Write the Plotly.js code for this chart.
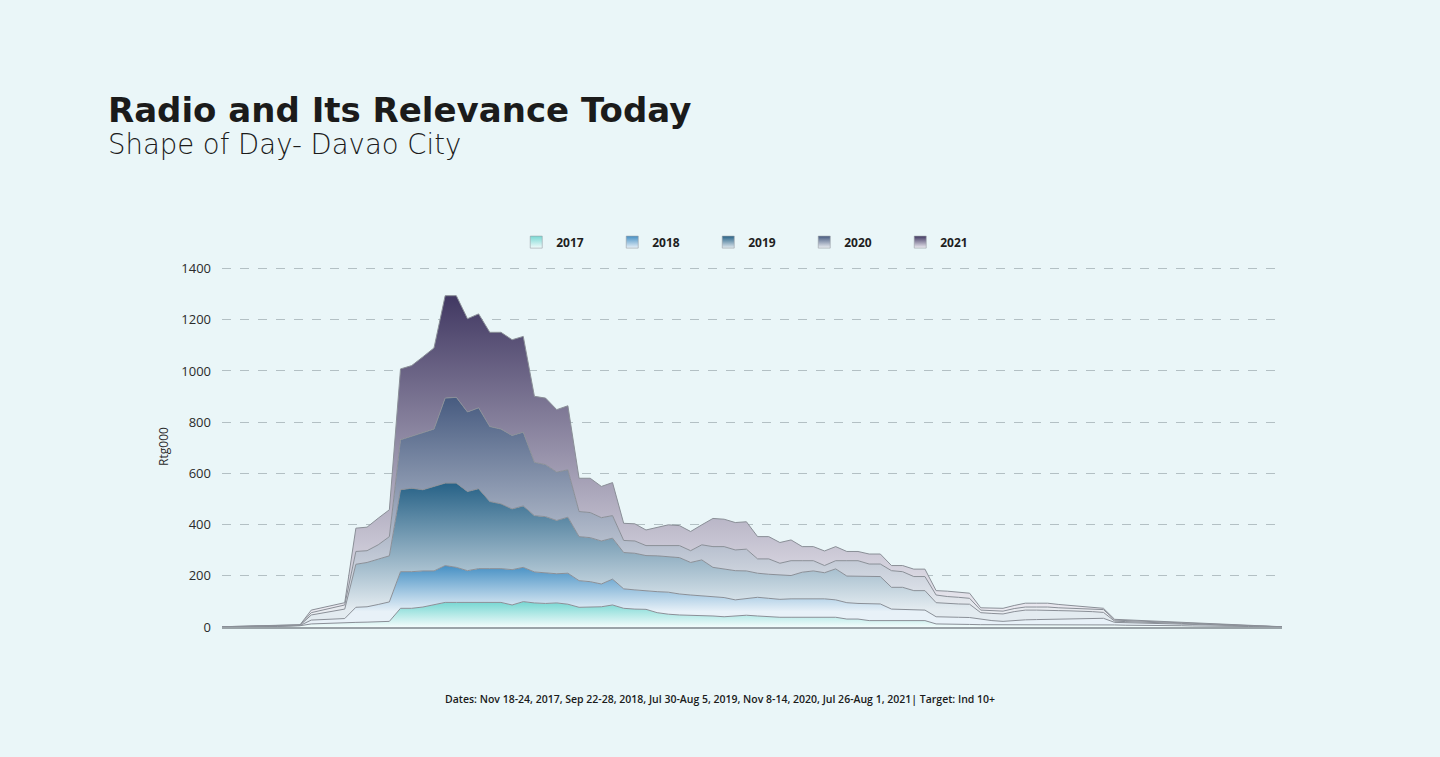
<!DOCTYPE html>
<html>
<head>
<meta charset="utf-8">
<script src="https://cdn.plot.ly/plotly-3.0.1.min.js"></script>
<style>
  html, body { margin: 0; padding: 0; background: #eaf6f8; }
  #chart { width: 1440px; height: 757px; }
</style>
</head>
<body>
<div id="chart"></div>
<script>
// quarter-hour slots of the day (categories only, axis labels hidden)
const slots = [];
for (let h = 0; h < 24; h++) {
  for (let m = 0; m < 60; m += 15) {
    slots.push(String(h).padStart(2, "0") + ":" + String(m).padStart(2, "0"));
  }
}

// Rtg000 per slot (each year's own share)
const y2017 = [0,0,1,1,1,2,3,5,12,14,16,17,18,19,20,22,73,73,78,86,96,96,96,96,96,96,86,99,94,92,94,89,
  77,77,79,86,73,70,69,56,50,47,46,44,43,40,44,46,43,40,38,38,38,38,37,38,31,31,25,25,25,25,25,25,
  12,12,11,10,9,9,8,9,9,9,10,10,10,10,10,10,8,7,7,6,6,5,5,4,4,3,3,2,2,1,1,0];
const y2018 = [0,1,0,1,1,1,1,1,15,15,15,16,59,60,68,76,143,143,141,133,144,137,124,132,132,132,138,134,121,120,114,121,
  104,100,89,101,76,75,72,82,86,82,79,77,76,75,62,64,73,72,70,72,72,74,73,68,64,61,67,65,45,44,41,41,
  28,26,27,27,21,16,14,17,19,20,20,21,22,23,23,24,10,10,9,9,8,8,7,6,5,5,4,3,2,2,1,1];
const y2019 = [0,0,1,0,1,1,1,1,20,26,31,37,168,173,177,180,320,326,317,330,322,329,309,312,262,253,237,240,220,219,208,219,
  172,172,168,160,142,143,138,140,139,142,127,141,114,112,114,109,94,94,95,91,104,107,102,121,104,107,105,107,85,86,76,76,
  55,54,52,52,26,28,29,34,38,37,36,33,31,29,27,23,5,4,4,3,3,2,2,2,2,1,1,1,1,0,0,0];
const y2020 = [1,1,0,1,1,1,1,1,9,11,14,16,50,46,56,75,195,202,221,224,332,335,311,316,293,292,287,288,208,203,189,185,
  98,98,91,88,47,48,39,40,43,47,46,59,81,87,81,85,56,60,46,58,45,40,28,32,60,60,49,49,65,61,55,55,
  30,27,26,23,10,11,11,12,12,12,12,11,10,10,11,11,4,4,3,3,3,3,2,2,1,1,1,1,0,1,0,0];
const y2021 = [0,0,1,1,1,1,1,1,10,10,10,9,91,92,104,105,277,277,298,317,400,397,364,367,368,378,374,374,258,260,244,250,
  130,134,122,129,67,67,61,70,81,78,75,78,110,107,107,107,87,87,81,81,55,55,57,55,36,36,39,39,20,24,29,29,
  17,21,20,20,9,10,11,12,15,15,15,13,11,9,6,5,3,3,3,3,2,2,2,2,2,2,1,1,1,1,1,0];

const years = ["2017", "2018", "2019", "2020", "2021"];
const values = [y2017, y2018, y2019, y2020, y2021];
// vertical fill gradient per band: [light at start, dark at stop]
const bandColors = [
  ["#f2fbfb", "#79d8d3"],
  ["#e8f1f8", "#4690c4"],
  ["#e3ebf0", "#276287"],
  ["#eceff3", "#475b80"],
  ["#efeef4", "#413862"]
];
const bandRange = [[0, 96], [60, 240], [70, 562], [50, 897], [40, 1294]];

// the stacked bands themselves
const areas = years.map((yr, i) => ({
  type: "scatter",
  mode: "lines",
  name: yr,
  x: slots,
  y: values[i],
  stackgroup: "day",
  showlegend: false,
  line: { color: "#8a8f97", width: 1, shape: "linear" },
  fillgradient: {
    type: "vertical",
    start: bandRange[i][0],
    stop: bandRange[i][1],
    colorscale: [[0, bandColors[i][0]], [1, bandColors[i][1]]]
  }
}));

// square swatches for the legend only
const swatches = years.map((yr, i) => ({
  type: "scatter",
  mode: "markers",
  name: yr,
  x: [null],
  y: [null],
  showlegend: true,
  marker: {
    symbol: "square",
    size: 12,
    color: bandColors[i][1],
    gradient: { type: "vertical", color: bandColors[i][0] },
    line: { color: "#9aa0a6", width: 0.6 }
  }
}));

const layout = {
  width: 1440,
  height: 757,
  paper_bgcolor: "#eaf6f8",
  plot_bgcolor: "#eaf6f8",
  margin: { l: 222, r: 158, t: 266.4, b: 130 },
  font: { family: "Open Sans, sans-serif", color: "#222" },
  showlegend: true,
  legend: {
    orientation: "h",
    x: 0.504,
    xanchor: "center",
    y: 1.026,
    yanchor: "bottom",
    font: { size: 12, weight: 700, color: "#1e1e1e" },
    itemwidth: 30,
    entrywidth: 51,
    traceorder: "normal"
  },
  xaxis: {
    type: "category",
    range: [0, slots.length - 1],
    showticklabels: false,
    showgrid: false,
    zeroline: false,
    showline: true,
    linecolor: "#9aa3a8",
    linewidth: 2,
    ticks: ""
  },
  yaxis: {
    range: [0, 1410],
    tickvals: [0, 200, 400, 600, 800, 1000, 1200, 1400],
    showgrid: true,
    gridcolor: "#b3c0c4",
    griddash: "dash",
    gridwidth: 1,
    zeroline: false,
    ticks: "",
    ticklabelstandoff: 10,
    tickfont: { size: 13, color: "#2b2b2b" },
    title: { text: "Rtg000", font: { size: 12, color: "#2b2b2b" }, standoff: 10 }
  },
  annotations: [
    {
      text: "Radio and Its Relevance Today",
      xref: "paper", yref: "paper",
      x: -0.1094, y: 1.432, xanchor: "left", yanchor: "middle",
      showarrow: false,
      font: { size: 34, weight: 700, color: "#1b1b1b", family: "DejaVu Sans, sans-serif" }
    },
    {
      text: "Shape of Day- Davao City",
      xref: "paper", yref: "paper",
      x: -0.1094, y: 1.338, xanchor: "left", yanchor: "middle",
      showarrow: false,
      font: { size: 27.5, weight: 200, color: "#1b1b1b", family: "DejaVu Sans, sans-serif" }
    },
    {
      text: "Dates: Nov 18-24, 2017, Sep 22-28, 2018, Jul 30-Aug 5, 2019, Nov 8-14, 2020, Jul 26-Aug 1, 2021| Target: Ind 10+",
      xref: "paper", yref: "paper",
      x: 0.4698, y: -0.2, xanchor: "center", yanchor: "middle",
      showarrow: false,
      font: { size: 10.5, weight: 600, color: "#1b1b1b", family: "Open Sans, sans-serif" }
    }
  ]
};

Plotly.newPlot("chart", areas.concat(swatches), layout, { displayModeBar: false, staticPlot: true });
</script>
</body>
</html>
